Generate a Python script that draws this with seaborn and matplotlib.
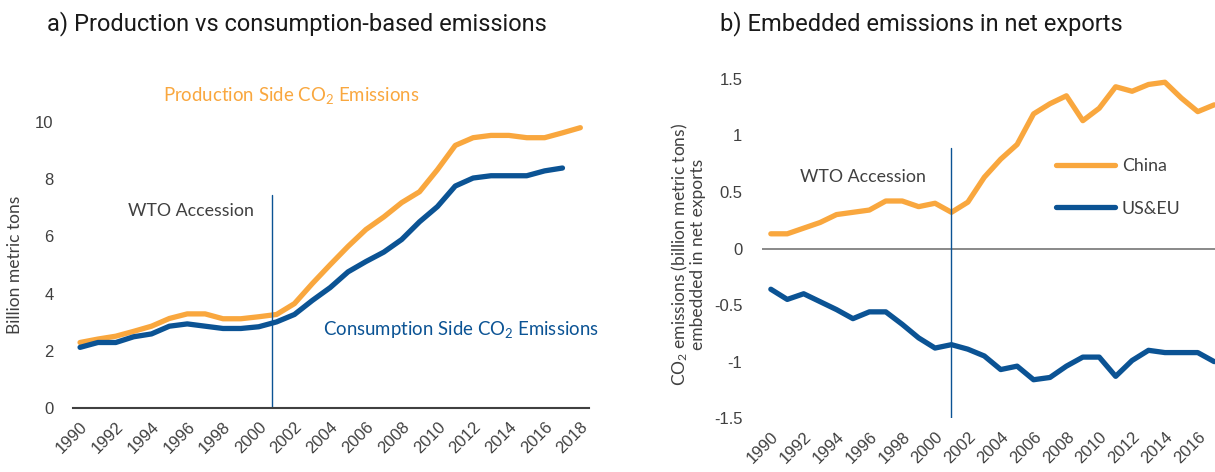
import numpy as np
import pandas as pd
import matplotlib
matplotlib.use("Agg")
import matplotlib.pyplot as plt
import matplotlib.transforms as mtransforms
import seaborn as sns

# ---------------- data ----------------
years_a = list(range(1990, 2019))
production = [2.29, 2.41, 2.51, 2.68, 2.86, 3.13, 3.29, 3.29, 3.12, 3.12,
              3.19, 3.27, 3.65, 4.35, 5.01, 5.65, 6.24, 6.68, 7.18, 7.56,
              8.33, 9.18, 9.45, 9.53, 9.53, 9.45, 9.45, 9.62, 9.80]
years_cons = list(range(1990, 2018))
consumption = [2.12, 2.29, 2.29, 2.49, 2.59, 2.86, 2.94, 2.86, 2.78, 2.78,
               2.84, 3.01, 3.27, 3.76, 4.21, 4.76, 5.12, 5.45, 5.89, 6.51,
               7.04, 7.76, 8.04, 8.12, 8.12, 8.12, 8.29, 8.39]

years_b = list(range(1990, 2018))
china = [0.13, 0.13, 0.18, 0.23, 0.30, 0.32, 0.34, 0.42, 0.42, 0.37,
         0.40, 0.32, 0.41, 0.63, 0.79, 0.92, 1.19, 1.28, 1.35, 1.13,
         1.24, 1.43, 1.39, 1.45, 1.47, 1.33, 1.21, 1.27]
us_eu = [-0.36, -0.45, -0.40, -0.47, -0.54, -0.62, -0.56, -0.56, -0.67, -0.79,
         -0.88, -0.85, -0.89, -0.95, -1.07, -1.04, -1.16, -1.14, -1.04, -0.96,
         -0.96, -1.13, -0.99, -0.90, -0.92, -0.92, -0.92, -1.00]

yticks_a = [0, 2, 4, 6, 8, 10]
yticks_b = [-1.5, -1, -0.5, 0, 0.5, 1, 1.5]
yticklabels_b = ["-1.5", "-1", "-0.5", "0", "0.5", "1", "1.5"]
xticks_a = list(range(1990, 2019, 2))
xticks_b = list(range(1990, 2017, 2))
wto_a = 2000.75
wto_b = 2001

ORANGE = "#F9A73E"
BLUE = "#0B5394"
TXT = "#404040"
ANN_FONT = ['Lato', 'DejaVu Sans']
TITLE_FONT = ['Roboto', 'DejaVu Sans']

sns.set_style("white")
plt.rcParams['font.family'] = ['Liberation Sans', 'DejaVu Sans']
plt.rcParams['mathtext.default'] = 'regular'

fig = plt.figure(figsize=(12.15, 4.72), dpi=100)
axA = fig.add_axes([0.060, 0.1356, 0.425, 0.606])
axB = fig.add_axes([0.627, 0.114, 0.373, 0.719])

shift = mtransforms.ScaledTranslation(6 / 100, -3 / 100, fig.dpi_scale_trans)


def style_xlabels(ax):
    for lab in ax.get_xticklabels():
        lab.set_transform(lab.get_transform() + shift)


# ---------- panel a ----------
dfp = pd.DataFrame({"year": years_a, "value": production})
dfc = pd.DataFrame({"year": years_cons, "value": consumption})
sns.lineplot(data=dfp, x="year", y="value", ax=axA, color=ORANGE, lw=3.8,
             solid_capstyle="round", solid_joinstyle="round")
sns.lineplot(data=dfc, x="year", y="value", ax=axA, color=BLUE, lw=3.8,
             solid_capstyle="round", solid_joinstyle="round")
axA.plot([wto_a, wto_a], [0, 7.45], color=BLUE, lw=1.0)
axA.set_xlim(1989.6, 2018.5)
axA.set_ylim(0, 10)
axA.set_yticks(yticks_a)
axA.set_yticklabels([str(v) for v in yticks_a])
axA.set_xticks(xticks_a)
axA.set_xticklabels([str(y) for y in xticks_a], rotation=45, ha="right",
                    rotation_mode="anchor")
style_xlabels(axA)
axA.set_xlabel("")
axA.set_ylabel("")
for s in ["left", "top", "right"]:
    axA.spines[s].set_visible(False)
axA.spines["bottom"].set_color("#404040")
axA.spines["bottom"].set_linewidth(1.5)
axA.tick_params(axis="both", length=0, labelsize=12, labelcolor=TXT)
axA.tick_params(axis="y", pad=14)
axA.tick_params(axis="x", pad=8)
axA.text(1994.65, 10.94, "Production Side CO$_2$ Emissions", color=ORANGE,
         fontsize=13.4, family=ANN_FONT, va="center", ha="left", clip_on=False)
axA.text(2003.6, 2.76, "Consumption Side CO$_2$ Emissions", color=BLUE,
         fontsize=13.4, family=ANN_FONT, va="center", ha="left", clip_on=False)
axA.text(1992.7, 6.89, "WTO Accession", color=TXT,
         fontsize=12.8, family=ANN_FONT, va="center", ha="left")
fig.text(15 / 1215, 0.4386, "Billion metric tons", rotation=90, ha="center",
         va="center", fontsize=12.5, color=TXT, family=ANN_FONT)
fig.text(47 / 1215, 1 - 24 / 472, "a) Production vs consumption-based emissions",
         fontsize=17, color="#1a1a1a", ha="left", va="center",
         family=TITLE_FONT)

# ---------- panel b ----------
dfb = pd.DataFrame({"year": years_b * 2,
                    "value": china + us_eu,
                    "region": ["China"] * len(years_b) + ["US&EU"] * len(years_b)})
sns.lineplot(data=dfb, x="year", y="value", hue="region", ax=axB,
             palette={"China": ORANGE, "US&EU": BLUE}, lw=3.8,
             solid_capstyle="round", solid_joinstyle="round")
axB.axhline(0, color="#808080", lw=1.3, zorder=0)
axB.plot([wto_b, wto_b], [-1.5, 0.89], color=BLUE, lw=1.0)
axB.set_xlim(1989.45, 2017.05)
axB.set_ylim(-1.5, 1.5)
axB.set_yticks(yticks_b)
axB.set_yticklabels(yticklabels_b)
axB.set_xticks(xticks_b)
axB.set_xticklabels([str(y) for y in xticks_b], rotation=45, ha="right",
                    rotation_mode="anchor")
style_xlabels(axB)
axB.set_xlabel("")
axB.set_ylabel("")
for s in ["left", "top", "right", "bottom"]:
    axB.spines[s].set_visible(False)
axB.tick_params(axis="both", length=0, labelsize=12, labelcolor=TXT)
axB.tick_params(axis="y", pad=14)
axB.tick_params(axis="x", pad=8)
axB.text(1991.8, 0.63, "WTO Accession", color=TXT,
         fontsize=12.8, family=ANN_FONT, va="center", ha="left")
leg = axB.legend(loc="upper left", bbox_to_anchor=(1056 / 1215, 1 - 158 / 472),
                 bbox_transform=fig.transFigure, frameon=False, borderpad=0,
                 borderaxespad=0, handlelength=3.3, handletextpad=0.4,
                 labelspacing=1.5, prop={"family": ANN_FONT, "size": 12.8})
for t in leg.get_texts():
    t.set_color(TXT)
fig.text(688 / 1215, 0.46,
         "CO$_2$ emissions (billion metric tons)\nembedded in net exports",
         rotation=90, ha="center", va="center", multialignment="center",
         fontsize=12.5, color=TXT, family=ANN_FONT, linespacing=1.0)
fig.text(720 / 1215, 1 - 24 / 472, "b) Embedded emissions in net exports",
         fontsize=17, color="#1a1a1a", ha="left", va="center",
         family=TITLE_FONT)

fig.savefig("out.png", dpi=100)
